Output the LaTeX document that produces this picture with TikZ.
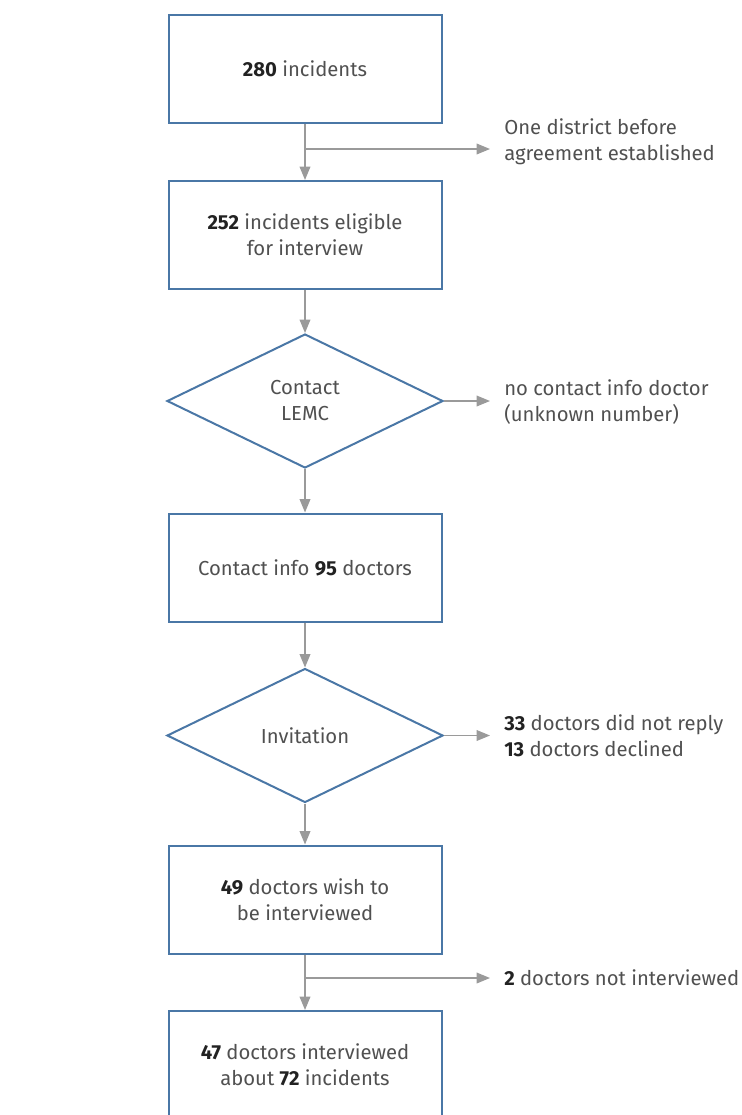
\documentclass[tikz,border=0pt]{standalone}
\usepackage{fontspec}
\setmainfont{Fira Sans}
\usetikzlibrary{shapes.geometric,arrows.meta}

\definecolor{boxblue}{HTML}{4A77A6}
\definecolor{arrowgray}{HTML}{9A9A9A}
\definecolor{txtgray}{HTML}{505050}
\newcommand{\num}[1]{{\color[HTML]{222222}\bfseries #1}}

\begin{document}
\begin{tikzpicture}[x=0.75pt,y=-0.75pt,
    font=\fontsize{15.2}{19.5}\selectfont,
    stagebox/.style={draw=boxblue,line width=1.5pt,fill=white,minimum width=204.75pt,minimum height=81pt,align=center,text=txtgray},
    choice/.style={draw=boxblue,line width=1.5pt,fill=white,diamond,minimum width=207pt,minimum height=100.5pt,inner sep=0pt,align=center,text=txtgray},
    sidenote/.style={anchor=west,inner sep=0pt,align=left,text=txtgray},
    flow/.style={draw=arrowgray,line width=1pt,-{Triangle[length=10pt,width=8pt]}}]
  \useasboundingbox (0,0) rectangle (742,1115);
  % stages
  \node [stagebox] (inc) at (305,69) {\num{280} incidents};
  \node [stagebox] (elig) at (305,235) {\num{252} incidents eligible\\for interview};
  \node [choice] (lemc) at (305,401) {Contact\\LEMC};
  \node [stagebox] (info) at (305,567.5) {Contact info \num{95} doctors};
  \node [choice] (invite) at (305,735.5) {Invitation};
  \node [stagebox] (wish) at (305,899.5) {\num{49} doctors wish to\\be interviewed};
  \node [stagebox] (done) at (305,1065) {\num{47} doctors interviewed\\about \num{72} incidents};
  % side notes
  \node [sidenote] (district) at (504,142) {One district before\\agreement established};
  \node [sidenote] (noinfo) at (504,402) {no contact info doctor\\(unknown number)};
  \node [sidenote] (reply) at (504,736) {\num{33} doctors did not reply\\\num{13} doctors declined};
  \node [sidenote] (notint) at (504,978) {\num{2} doctors not interviewed};
  \coordinate (split1) at (305,149);
  \coordinate (split2) at (305,978);
  % connectors
  \draw [flow] (inc) -- (elig);
  \draw [flow] (elig) -- (lemc);
  \draw [flow] (lemc) -- (info);
  \draw [flow] (info) -- (invite);
  \draw [flow] (invite) -- (wish);
  \draw [flow] (wish) -- (done);
  \draw [flow, shorten >=10.5pt] (split1) -- (split1 -| district.west);
  \draw [flow, shorten >=10.5pt] (lemc.east) -- (lemc.east -| noinfo.west);
  \draw [flow, shorten >=10.5pt] (invite.east) -- (invite.east -| reply.west);
  \draw [flow, shorten >=10.5pt] (split2) -- (notint.west);
\end{tikzpicture}
\end{document}
